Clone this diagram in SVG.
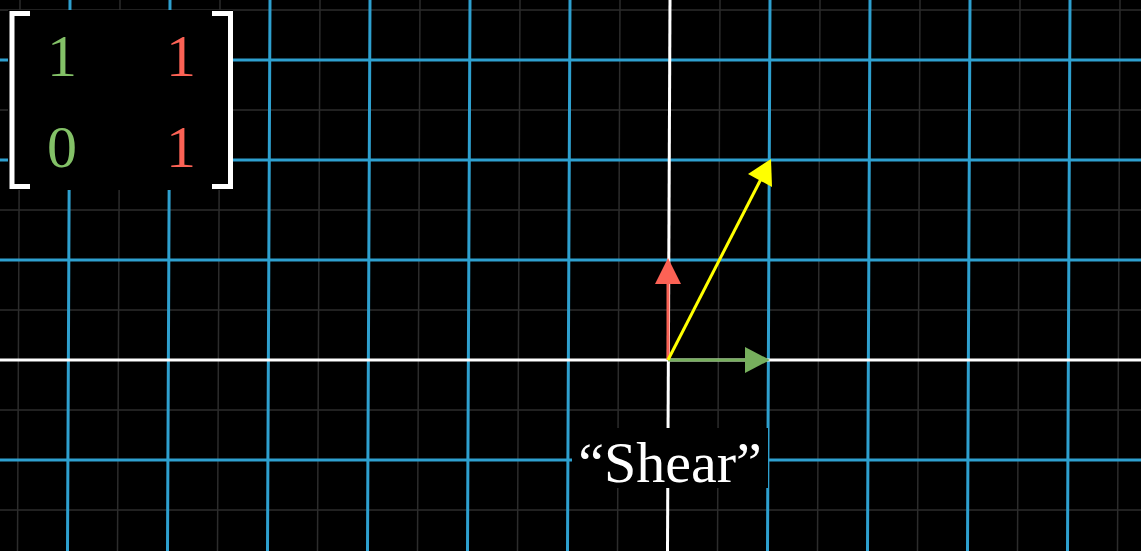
<svg xmlns="http://www.w3.org/2000/svg" width="1141" height="551" viewBox="0 0 1141 551">
<style>
.faint{stroke:#2c2c2c;stroke-width:1.5}
.blue{stroke:#2ea0cf;stroke-width:3}
.axis{stroke:#ffffff;stroke-width:3}
.num{font-family:"Liberation Serif","DejaVu Serif",serif;font-size:60px;text-anchor:middle}
.br{fill:none;stroke:#ffffff;stroke-width:5}
</style>
<rect width="1141" height="551" fill="#000"/>
<g id="grid">
<g class="faint">
<path d="M20,0L17.5,551M120,0L117.5,551M220,0L217.5,551M320,0L317.5,551M420,0L417.5,551M520,0L517.5,551M620,0L617.5,551M720,0L717.5,551M820,0L817.5,551M920,0L917.5,551M1020,0L1017.5,551M1120,0L1117.5,551"/>
<path d="M0,10H1141M0,110H1141M0,210H1141M0,310H1141M0,410H1141M0,510H1141"/>
</g>
<g class="blue">
<path d="M70,0L67.5,551M170,0L167.5,551M270,0L267.5,551M370,0L367.5,551M470,0L467.5,551M570,0L567.5,551M770,0L767.5,551M870,0L867.5,551M970,0L967.5,551M1070,0L1067.5,551"/>
<path d="M0,60H1141M0,160H1141M0,260H1141M0,460H1141"/>
</g>
<g class="axis">
<path d="M0,360H1141"/>
<path d="M670,0L667.5,551"/>
</g>
</g>
<g id="matrix">
<rect x="8" y="10" width="225" height="180" fill="#000"/>
<path class="br" d="M30,13.5H12V186.5H30"/>
<path class="br" d="M212,13.5H230.5V186.5H212"/>
<text class="num" x="62" y="76" fill="#83c167">1</text>
<text class="num" x="62" y="167" fill="#83c167">0</text>
<text class="num" x="181" y="76" fill="#fc6255">1</text>
<text class="num" x="181" y="167" fill="#fc6255">1</text>
</g>
<g id="connectors">
<g id="i-hat">
<line x1="668" y1="360" x2="748" y2="360" stroke="#77b05d" stroke-width="3"/>
<polygon points="770,360 745,347 745,373" fill="#77b05d"/>
</g>
<g id="j-hat">
<line x1="668" y1="360" x2="668" y2="280" stroke="#fc6255" stroke-width="3"/>
<polygon points="668,258 655,284 681,284" fill="#fc6255"/>
</g>
<g id="sum">
<line x1="668" y1="360" x2="762" y2="177" stroke="#ffff00" stroke-width="3"/>
<polygon points="771,159 772,187 748,174" fill="#ffff00"/>
</g>
</g>
<g id="label">
<rect x="572" y="428" width="196" height="60" fill="#000"/>
<text x="670" y="482" font-family="'Liberation Serif','DejaVu Serif',serif" font-size="58" fill="#fff" text-anchor="middle">“Shear”</text>
</g>
</svg>
